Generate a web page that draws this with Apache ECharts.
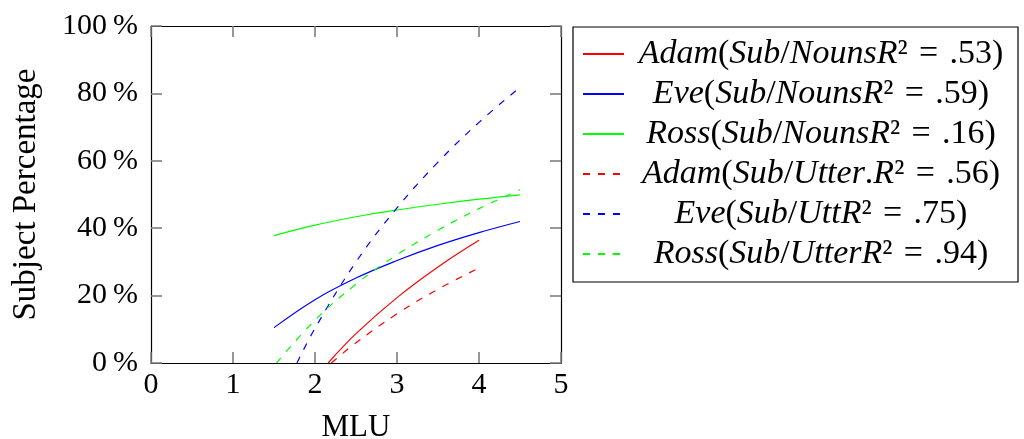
<!DOCTYPE html>
<html>
<head>
<meta charset="utf-8">
<script src="https://cdn.jsdelivr.net/npm/echarts@6/dist/echarts.min.js"></script>
<style>html,body{margin:0;padding:0;background:#fff}#c{width:1024px;height:439px;background:#fff}</style>
</head>
<body>
<div id="c"></div>
<script>
// Data (MLU, subject %)
const adamNouns = [[2.16, 0], [2.5, 8.7], [3, 19.4], [3.5, 28.5], [4, 36.4]];
const eveNouns = [[1.5, 10.5], [2, 18.8], [2.5, 25.2], [3, 30.4], [3.5, 34.9], [4, 38.7], [4.5, 42.0]];
const rossNouns = [[1.5, 37.8], [2, 40.9], [2.5, 43.4], [3, 45.4], [3.5, 47.1], [4, 48.6], [4.5, 49.9]];
const adamUtter = [[2.2, 0], [2.5, 6.0], [3, 14.6], [3.5, 21.9], [4, 28.2]];
const eveUtter = [[1.78, 0], [2, 10.3], [2.5, 30.0], [3, 46.0], [3.5, 59.6], [4, 71.4], [4.45, 80.8]];
const rossUtter = [[1.53, 0], [2, 12.7], [2.5, 23.4], [3, 32.1], [3.5, 39.4], [4, 45.8], [4.5, 51.4]];

const seriesNames = [
  'Adam(Sub/NounsR² = .53)',
  'Eve(Sub/NounsR² = .59)',
  'Ross(Sub/NounsR² = .16)',
  'Adam(Sub/Utter.R² = .56)',
  'Eve(Sub/UttR² = .75)',
  'Ross(Sub/UtterR² = .94)'
];
const seriesData = [adamNouns, eveNouns, rossNouns, adamUtter, eveUtter, rossUtter];
const seriesColors = ['#ff0000', '#0000ff', '#00ff00', '#ff0000', '#0000ff', '#00ff00'];
const seriesDash = ['solid', 'solid', 'solid', [7, 8], [7, 8], [7, 8]];

const xTicks = [0, 1, 2, 3, 4, 5];
const yTicks = [0, 20, 40, 60, 80, 100];

const serif = '"Liberation Serif", "DejaVu Serif", serif';
const FS = 30;
const LFS = 34;

function richName(name) {
  let out = '';
  const re = /([A-Za-z]+)|([^A-Za-z]+)/g;
  let m;
  while ((m = re.exec(name)) !== null) {
    if (m[1]) out += '{i|' + m[1] + '}';
    else out += '{u|' + m[2].replace(' = ', '\u2004=\u2004') + '}';
  }
  return out;
}

const chart = echarts.init(document.getElementById('c'));

const tk = () => ({show: true, inside: true, length: 11, lineStyle: {color: '#7d7d7d', width: 1.6}});
const axLine = () => ({show: true, onZero: false, lineStyle: {color: '#000', width: 1.2}});

chart.setOption({
  animation: false,
  grid: {left: 151, right: 463, top: 26, bottom: 76, outerBoundsMode: 'none'},
  xAxis: [{
    type: 'value', min: xTicks[0], max: xTicks[xTicks.length - 1], interval: 1,
    name: 'MLU', nameLocation: 'middle', nameGap: 49,
    nameTextStyle: {fontFamily: serif, fontSize: 31, color: '#000'},
    axisLine: axLine(), splitLine: {show: false},
    axisTick: tk(),
    axisLabel: {fontFamily: serif, fontSize: FS, color: '#000', margin: 7}
  }, {
    type: 'value', position: 'top', min: 0, max: 5, interval: 1,
    axisLine: axLine(), splitLine: {show: false}, axisLabel: {show: false},
    axisTick: tk()
  }],
  yAxis: [{
    type: 'value', min: yTicks[0], max: yTicks[yTicks.length - 1], interval: 20,
    name: 'Subject Percentage', nameLocation: 'middle', nameGap: 108,
    nameTextStyle: {fontFamily: serif, fontSize: 33, color: '#000'},
    axisLine: axLine(), splitLine: {show: false},
    axisTick: tk(),
    axisLabel: {fontFamily: serif, fontSize: FS, color: '#000', margin: 13, formatter: '{value}\u2009%'}
  }, {
    type: 'value', position: 'right', min: 0, max: 100, interval: 20,
    axisLine: axLine(), splitLine: {show: false}, axisLabel: {show: false},
    axisTick: tk()
  }],
  legend: {
    orient: 'vertical', left: 573, top: 27,
    padding: [10, 5, 11, 9],
    itemWidth: 41, itemHeight: 14, itemGap: 6,
    borderColor: '#000', borderWidth: 1.2, backgroundColor: '#fff',
    itemStyle: {opacity: 0},
    data: seriesNames,
    formatter: richName,
    textStyle: {
      width: 384, lineHeight: 32,
      rich: {
        i: {fontFamily: serif, fontStyle: 'italic', fontSize: LFS, color: '#000', align: 'center', lineHeight: 32},
        u: {fontFamily: serif, fontSize: LFS, color: '#000', align: 'center', lineHeight: 32}
      }
    }
  },
  series: seriesNames.map((n, k) => ({
    name: n, type: 'line', data: seriesData[k], xAxisIndex: 0, yAxisIndex: 0,
    smooth: 0.4, symbol: 'none', showSymbol: false,
    color: seriesColors[k],
    lineStyle: {color: seriesColors[k], width: 1.2, type: seriesDash[k]}
  }))
});
</script>
</body>
</html>
